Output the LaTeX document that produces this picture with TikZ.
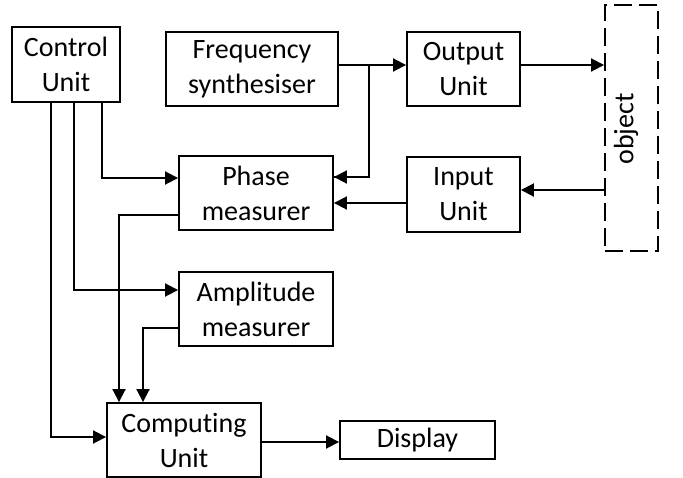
\documentclass[tikz,border=0pt]{standalone}
\usepackage{fontspec}
\setmainfont{Carlito}[Ligatures=NoCommon]
\usetikzlibrary{arrows.meta}
\begin{document}
\begin{tikzpicture}[x=1pt,y=-1pt,
  box/.style={draw,line width=1.9pt,align=center,inner sep=0pt,font=\fontsize{28}{35}\selectfont},
  arr/.style={line width=1.9pt,-{Triangle[length=13pt,width=13pt]}},
  ln/.style={line width=1.9pt}]
\useasboundingbox (0,0) rectangle (683,477);
\node[box,minimum width=108pt,minimum height=75pt] (control) at (66,64.5) {Control\\Unit};
\node[box,minimum width=172pt,minimum height=74pt] (freq) at (252,69) {Frequency\\synthesiser};
\node[box,minimum width=113pt,minimum height=74pt] (output) at (463.5,69) {Output\\Unit};
\node[box,dashed,dash pattern=on 18pt off 7pt,minimum width=53pt,minimum height=246pt] (object) at (631.5,128) {};
\node[font=\fontsize{28}{35}\selectfont,rotate=90] (objtext) at (626,129) {object};
\node[box,minimum width=154pt,minimum height=74pt] (phase) at (256,193) {Phase\\measurer};
\node[box,minimum width=113pt,minimum height=75pt] (input) at (463.5,194.5) {Input\\Unit};
\node[box,minimum width=154pt,minimum height=74pt] (ampl) at (256,309) {Amplitude\\measurer};
\node[box,minimum width=154pt,minimum height=74pt] (comp) at (184,440) {Computing\\Unit};
\node[box,minimum width=155pt,minimum height=38pt] (display) at (417.5,440) {Display};
\coordinate (br) at (369,65);
% top chain
\draw[arr] ([yshift=4pt]freq.east) -- ([yshift=4pt]output.west);
\draw[ln] (br) |- ([yshift=16pt]phase.east);
\draw[arr] ([yshift=16pt,xshift=36pt]phase.east) -- ([yshift=16pt]phase.east);
\draw[arr] ([yshift=4pt]output.east) -- ([yshift=63pt]object.west);
\draw[arr] ([yshift=-62pt]object.west) -- ([yshift=4.5pt]input.east);
\draw[arr] ([yshift=-8.5pt]input.west) -- ([yshift=-10pt]phase.east);
% control lines
\draw[arr] ([xshift=36pt]control.south) |- ([yshift=15pt]phase.west);
\draw[arr] ([xshift=8pt]control.south) |- ([yshift=19pt]ampl.west);
\draw[arr] ([xshift=-15pt]control.south) |- ([yshift=3pt]comp.west);
% measurer outputs
\draw[arr] ([yshift=-22pt]phase.west) -| ([xshift=-65pt]comp.north);
\draw[arr] ([yshift=-19pt]ampl.west) -| ([xshift=-41pt]comp.north);
% computing to display
\draw[arr] ([yshift=-2pt]comp.east) -- ([yshift=-2pt]display.west);
\end{tikzpicture}
\end{document}
